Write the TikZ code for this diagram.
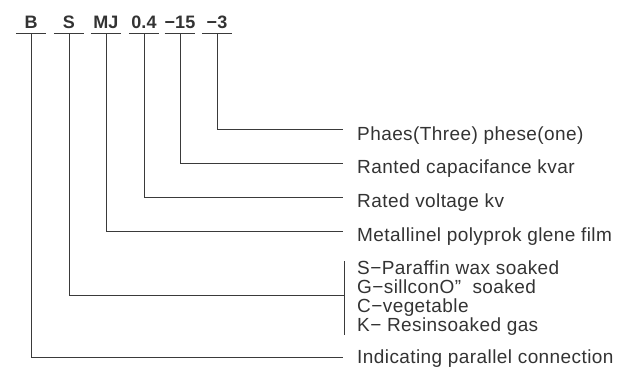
\documentclass[tikz,border=0pt]{standalone}
\usepackage{fontspec}
\setmainfont{Liberation Sans}
\newfontfamily\spacedfont[LetterSpace=2.2]{Liberation Sans}
\definecolor{txtc}{HTML}{333333}
\definecolor{linec}{HTML}{3A3A3A}
\begin{document}
\begin{tikzpicture}[x=1pt,y=-1pt,
  lab/.style={font=\fontsize{18}{18}\selectfont\bfseries, text=txtc, inner sep=0pt, minimum width=30pt, text depth=5pt, anchor=base},
  txt/.style={font=\spacedfont\fontsize{19}{19}\selectfont, text=txtc, inner xsep=14pt, inner ysep=0pt, anchor=base west},
  multi/.style={font=\spacedfont\fontsize{19}{18.7}\selectfont, text=txtc, inner xsep=13pt, inner ysep=0pt, align=left, anchor=north west},
  ln/.style={draw=linec, line width=0.9pt}]
\useasboundingbox (0,0) rectangle (617,367);
% top code labels
\node[lab] (lB)  at (31,28)  {B};
\node[lab] (lS)  at (69,28)  {S};
\node[lab] (lMJ) at (106,28) {MJ};
\node[lab] (lV)  at (144,28) {0.4};
\node[lab] (lC)  at (180,28) {−15};
\node[lab] (lP)  at (217,28) {−3};
\foreach \n in {lB,lS,lMJ,lV,lC,lP}{\draw[ln] (\n.south west) -- (\n.south east);}
% explanations
\node[txt] (tP) at (343,140) {Phaes(Three) phese(one)};
\node[txt] (tC) at (343,173) {Ranted capacifance kvar};
\node[txt] (tV) at (343,207) {Rated voltage kv};
\node[txt] (tM) at (343,241) {Metallinel polyprok glene film};
\node[multi] (tS) at (344,261) {S−Paraffin wax soaked\\G−sillconO”\hspace{0.6em}soaked\\C−vegetable\\K− Resinsoaked gas};
\node[txt] (tB) at (343,363) {Indicating parallel connection};
% connectors
\draw[ln] (lP.south) |- ([yshift=11pt]tP.base west);
\draw[ln] (lC.south) |- ([yshift=10pt]tC.base west);
\draw[ln] (lV.south) |- ([yshift=10pt]tV.base west);
\draw[ln] (lMJ.south) |- ([yshift=10pt]tM.base west);
\draw[ln] (tS.north west) -- (tS.south west);
\draw[ln] (lS.south) |- ([yshift=3pt]tS.west);
\draw[ln] (lB.south) |- ([yshift=6pt]tB.base west);
\end{tikzpicture}
\end{document}
